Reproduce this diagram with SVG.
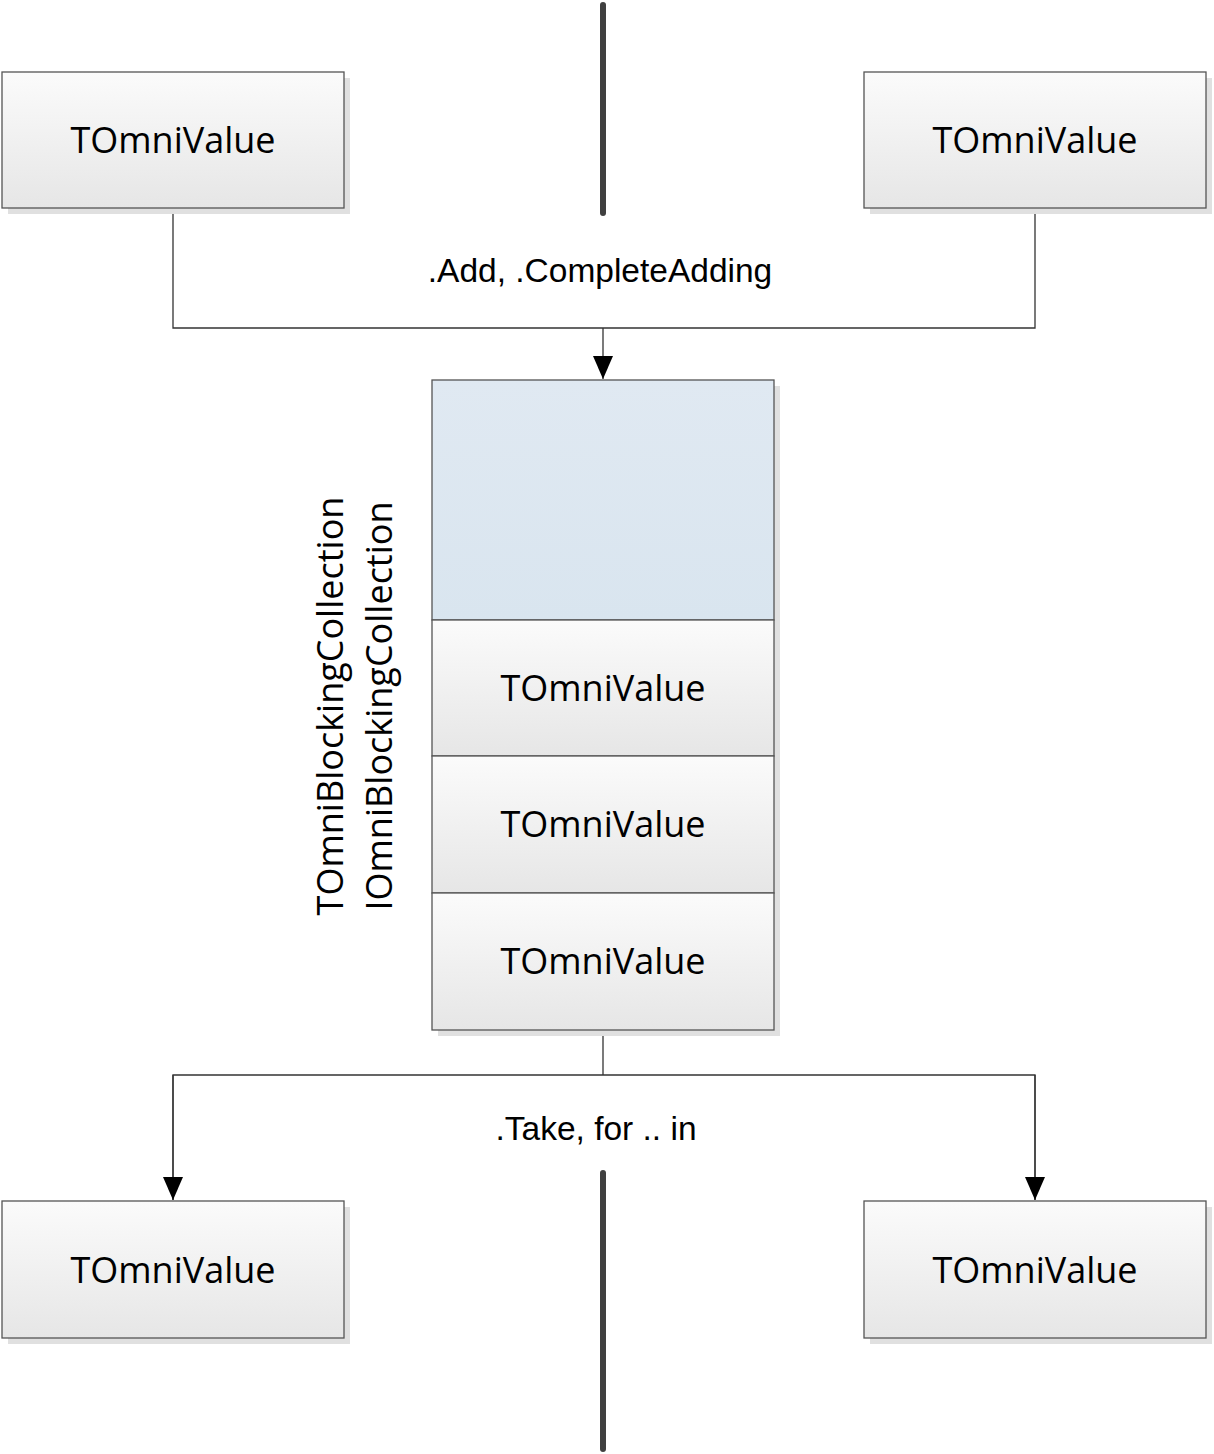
<svg xmlns="http://www.w3.org/2000/svg" width="1214" height="1454" viewBox="0 0 1214 1454">
<style>
.box{stroke:#555;stroke-width:1.3}
.sh{fill:#e0e0e0}
.lbl{font-family:"Open Sans","Noto Sans",sans-serif;font-size:36px;fill:#000;text-anchor:middle}
.cl{font-family:"Liberation Sans",Arial,sans-serif;font-size:33.5px;fill:#000;text-anchor:middle}
.con{fill:none;stroke:#333;stroke-width:1.3}
.bar{stroke:#404040;stroke-width:6;stroke-linecap:round}
</style>
<defs>
<linearGradient id="g" x1="0" y1="0" x2="0" y2="1">
<stop offset="0" stop-color="#fbfbfb"/>
<stop offset="1" stop-color="#e6e6e6"/>
</linearGradient>
<linearGradient id="b" x1="0" y1="0" x2="0" y2="1">
<stop offset="0" stop-color="#e0e9f2"/>
<stop offset="1" stop-color="#d9e5ef"/>
</linearGradient>
<marker id="ar" markerWidth="20" markerHeight="23" refX="10" refY="23" orient="0" markerUnits="userSpaceOnUse">
<path d="M0,0 L20,0 L10,23 Z" fill="#000"/>
</marker>
</defs>
<rect width="1214" height="1454" fill="#fff"/>
<g id="bars">
<line class="bar" x1="603" y1="5" x2="603" y2="213"/>
<line class="bar" x1="603" y1="1173" x2="603" y2="1449"/>
</g>
<g id="connectors">
<polyline class="con" points="173,208 173,328 1035,328 1035,208"/>
<line class="con" x1="603" y1="328" x2="603" y2="379" marker-end="url(#ar)"/>
<line class="con" x1="603" y1="1030" x2="603" y2="1075"/>
<polyline class="con" points="173,1200 173,1075 1035,1075 1035,1200"/>
<line class="con" x1="173" y1="1075" x2="173" y2="1200" marker-end="url(#ar)"/>
<line class="con" x1="1035" y1="1075" x2="1035" y2="1200" marker-end="url(#ar)"/>
<text class="cl" x="600" y="282">.Add, .CompleteAdding</text>
<text class="cl" x="596" y="1140">.Take, for .. in</text>
</g>
<g id="tl">
<rect class="sh" x="8" y="78" width="342" height="136"/>
<rect class="box" x="2" y="72" width="342" height="136" fill="url(#g)"/>
<text class="lbl" x="173" y="153">TOmniValue</text>
</g>
<g id="tr">
<rect class="sh" x="870" y="78" width="342" height="136"/>
<rect class="box" x="864" y="72" width="342" height="136" fill="url(#g)"/>
<text class="lbl" x="1035" y="153">TOmniValue</text>
</g>
<g id="collection">
<rect class="sh" x="438" y="386" width="342" height="650"/>
<rect class="box" x="432" y="380" width="342" height="240" fill="url(#b)"/>
<g id="c1">
<rect class="box" x="432" y="620" width="342" height="136" fill="url(#g)"/>
<text class="lbl" x="603" y="701">TOmniValue</text>
</g>
<g id="c2">
<rect class="box" x="432" y="756" width="342" height="137" fill="url(#g)"/>
<text class="lbl" x="603" y="837">TOmniValue</text>
</g>
<g id="c3">
<rect class="box" x="432" y="893" width="342" height="137" fill="url(#g)"/>
<text class="lbl" x="603" y="974">TOmniValue</text>
</g>
<text class="lbl" transform="translate(343,706) rotate(-90)">TOmniBlockingCollection</text>
<text class="lbl" transform="translate(392,706) rotate(-90)">IOmniBlockingCollection</text>
</g>
<g id="bl">
<rect class="sh" x="8" y="1207" width="342" height="137"/>
<rect class="box" x="2" y="1201" width="342" height="137" fill="url(#g)"/>
<text class="lbl" x="173" y="1283">TOmniValue</text>
</g>
<g id="br">
<rect class="sh" x="870" y="1207" width="342" height="137"/>
<rect class="box" x="864" y="1201" width="342" height="137" fill="url(#g)"/>
<text class="lbl" x="1035" y="1283">TOmniValue</text>
</g>
</svg>
